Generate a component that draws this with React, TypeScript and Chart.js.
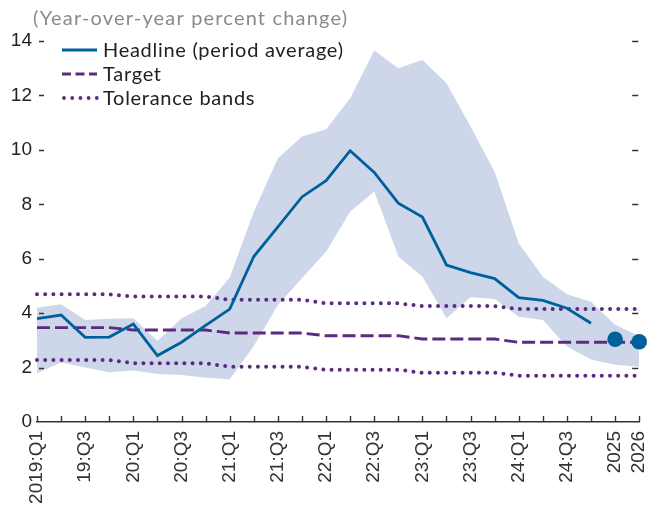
import React, { useEffect, useRef } from "react";
import { Chart, registerables } from "chart.js";

Chart.register(...registerables);

const categories = [
  "2019:Q1", "19:Q2", "19:Q3", "19:Q4",
  "20:Q1", "20:Q2", "20:Q3", "20:Q4",
  "21:Q1", "21:Q2", "21:Q3", "21:Q4",
  "22:Q1", "22:Q2", "22:Q3", "22:Q4",
  "23:Q1", "23:Q2", "23:Q3", "23:Q4",
  "24:Q1", "24:Q2", "24:Q3", "24:Q4",
  "2025", "2026",
];

const headline = [
  3.8, 3.93, 3.11, 3.12, 3.6, 2.44, 2.93, 3.55, 4.15, 6.08, 7.17, 8.27,
  8.87, 9.97, 9.17, 8.04, 7.53, 5.77, 5.49, 5.27, 4.57, 4.47, 4.18, 3.63,
  null, null,
];

const projection = [
  null, null, null, null, null, null, null, null, null, null, null, null,
  null, null, null, null, null, null, null, null, null, null, null, null,
  3.04, 2.95,
];

const target = [
  3.47, 3.47, 3.47, 3.47, 3.38, 3.38, 3.38, 3.38, 3.27, 3.27, 3.27, 3.27,
  3.17, 3.17, 3.17, 3.17, 3.05, 3.05, 3.05, 3.05, 2.93, 2.93, 2.93, 2.93,
  2.93, 2.93,
];

const toleranceUpper = [
  4.69, 4.69, 4.69, 4.69, 4.61, 4.61, 4.61, 4.61, 4.49, 4.49, 4.49, 4.49,
  4.36, 4.36, 4.36, 4.36, 4.26, 4.26, 4.26, 4.26, 4.15, 4.15, 4.15, 4.15,
  4.15, 4.15,
];

const toleranceLower = [
  2.28, 2.28, 2.28, 2.28, 2.16, 2.16, 2.16, 2.16, 2.03, 2.03, 2.03, 2.03,
  1.92, 1.92, 1.92, 1.92, 1.81, 1.81, 1.81, 1.81, 1.7, 1.7, 1.7, 1.7,
  1.7, 1.7,
];

const fanUpper = [
  4.2, 4.33, 3.75, 3.79, 3.81, 2.98, 3.81, 4.26, 5.31, 7.73, 9.69, 10.49,
  10.76, 11.9, 13.65, 13.0, 13.31, 12.45, 10.86, 9.2, 6.57, 5.34, 4.69, 4.42,
  3.57, 3.16,
];

const fanLower = [
  1.79, 2.19, 2.0, 1.83, 1.89, 1.76, 1.73, 1.63, 1.57, 2.79, 4.3, 5.28,
  6.26, 7.73, 8.47, 6.08, 5.34, 3.81, 4.58, 4.52, 3.87, 3.75, 2.77, 2.3,
  2.1, 2.03,
];

const yTickValues = [0, 2, 4, 6, 8, 10, 12, 14];

const subtitle = "(Year-over-year percent change)";
const legendLabels = ["Headline (period average)", "Target", "Tolerance bands"];

const BLUE = "#00609b";
const PURPLE = "#5c2a82";
const FAN = "#ced7ea";
const AXIS = "#333333";
const TEXT_FONT = "Lato";

function spacingToFit(ctx: CanvasRenderingContext2D, text: string, width: number) {
  (ctx as any).letterSpacing = "0px";
  const w = ctx.measureText(text).width;
  return Math.max(0, (width - w) / Math.max(1, text.length - 1));
}

const decorPlugin = {
  id: "decor",
  afterDraw(chart: any) {
    const { ctx, chartArea, scales } = chart;
    const { left, right, bottom } = chartArea;
    const x = scales.x;
    const y = scales.y;
    ctx.save();
    ctx.strokeStyle = AXIS;
    ctx.lineWidth = 1.4;
    categories.forEach((_, i) => {
      const px = Math.round(x.getPixelForValue(i)) + 0.5;
      ctx.beginPath();
      ctx.moveTo(px, bottom);
      ctx.lineTo(px, bottom - 6);
      ctx.stroke();
    });
    yTickValues.forEach((v) => {
      if (v === 0) return;
      const py = Math.round(y.getPixelForValue(v)) + 0.5;
      ctx.beginPath();
      ctx.moveTo(left + 2, py);
      ctx.lineTo(left + 7, py);
      ctx.moveTo(right - 7, py);
      ctx.lineTo(right - 1, py);
      ctx.stroke();
    });

    // subtitle
    ctx.fillStyle = "#8a8a8a";
    ctx.font = `20px ${TEXT_FONT}`;
    ctx.textAlign = "left";
    ctx.textBaseline = "alphabetic";
    const sSub = spacingToFit(ctx, subtitle, 314);
    (ctx as any).letterSpacing = `${sSub}px`;
    ctx.fillText(subtitle, 33, 25);

    // legend
    (ctx as any).letterSpacing = "0px";
    const lx0 = 62;
    const lx1 = 97;
    const ys = [50, 74, 98];
    ctx.lineCap = "butt";
    ctx.strokeStyle = BLUE;
    ctx.lineWidth = 2.8;
    ctx.setLineDash([]);
    ctx.beginPath();
    ctx.moveTo(lx0, ys[0]);
    ctx.lineTo(lx1, ys[0]);
    ctx.stroke();
    ctx.strokeStyle = PURPLE;
    ctx.lineWidth = 2.8;
    ctx.setLineDash([9, 4.5]);
    ctx.beginPath();
    ctx.moveTo(lx0, ys[1]);
    ctx.lineTo(lx1, ys[1]);
    ctx.stroke();
    ctx.setLineDash([]);
    ctx.fillStyle = PURPLE;
    for (let k = 0; k < 5; k++) {
      ctx.beginPath();
      ctx.arc(lx0 + 2 + k * 8.2, ys[2], 1.9, 0, Math.PI * 2);
      ctx.fill();
    }
    ctx.fillStyle = "#222222";
    ctx.font = `20px ${TEXT_FONT}`;
    const sLeg = spacingToFit(ctx, legendLabels[0], 240);
    (ctx as any).letterSpacing = `${sLeg}px`;
    ctx.textBaseline = "middle";
    legendLabels.forEach((t, i) => {
      ctx.fillText(t, 103, ys[i] + 1);
    });
    ctx.restore();
  },
};

export default function App() {
  const canvasRef = useRef<HTMLCanvasElement | null>(null);

  useEffect(() => {
    const canvas = canvasRef.current;
    if (!canvas) return;
    Chart.defaults.font.family = "'Liberation Sans', Arial, sans-serif";
    const chart = new Chart(canvas, {
      type: "line",
      data: {
        labels: categories,
        datasets: [
          {
            label: "Projection",
            data: projection,
            showLine: false,
            pointRadius: 7.8,
            pointBackgroundColor: BLUE,
            pointBorderColor: BLUE,
            pointBorderWidth: 0,
            clip: false as any,
            order: 0,
          },
          {
            label: "Headline (period average)",
            data: headline,
            borderColor: BLUE,
            borderWidth: 2.8,
            pointRadius: 0,
            tension: 0,
            spanGaps: false,
            order: 1,
          },
          {
            label: "Target",
            data: target,
            borderColor: PURPLE,
            borderWidth: 2.8,
            borderDash: [13, 5],
            pointRadius: 0,
            tension: 0,
            order: 2,
          },
          {
            label: "Tolerance upper",
            data: toleranceUpper,
            borderColor: PURPLE,
            borderWidth: 4,
            borderDash: [0, 8.2],
            borderCapStyle: "round",
            pointRadius: 0,
            tension: 0,
            order: 3,
          },
          {
            label: "Tolerance lower",
            data: toleranceLower,
            borderColor: PURPLE,
            borderWidth: 4,
            borderDash: [0, 8.2],
            borderCapStyle: "round",
            pointRadius: 0,
            tension: 0,
            order: 4,
          },
          {
            label: "Fan lower",
            data: fanLower,
            borderWidth: 0,
            borderColor: "rgba(0,0,0,0)",
            pointRadius: 0,
            tension: 0,
            fill: false,
            order: 5,
          },
          {
            label: "Fan upper",
            data: fanUpper,
            borderWidth: 0,
            borderColor: "rgba(0,0,0,0)",
            backgroundColor: FAN,
            pointRadius: 0,
            tension: 0,
            fill: "-1",
            order: 6,
          },
        ],
      },
      options: {
        animation: false,
        responsive: false,
        events: [],
        layout: { padding: { top: 41, right: 5, left: 0, bottom: 0 } },
        plugins: {
          legend: { display: false },
          tooltip: { enabled: false },
          title: { display: false },
        },
        scales: {
          x: {
            type: "category",
            offset: false,
            grid: { display: false, drawTicks: false },
            border: { display: true, color: AXIS, width: 1.5 },
            ticks: {
              autoSkip: false,
              minRotation: 90,
              maxRotation: 90,
              padding: 9,
              color: "#333333",
              font: { size: 19 },
              callback: (_v: any, i: number) => {
                if (i === categories.length - 1) return [categories[i], ""];
                return i % 2 === 0 ? categories[i] : "";
              },
            },
            afterFit: (scale: any) => {
              scale.height = 90;
              scale.paddingRight = 0;
              scale.paddingLeft = 0;
            },
          },
          y: {
            min: 0,
            max: 14,
            grid: { display: false, drawTicks: false },
            border: { display: false },
            afterBuildTicks: (scale: any) => {
              scale.ticks = yTickValues.map((v) => ({ value: v }));
            },
            ticks: {
              padding: 5,
              color: "#222222",
              font: { size: 19 },
            },
            afterFit: (scale: any) => {
              scale.width = 37;
            },
          },
        },
      },
      plugins: [decorPlugin],
    });
    return () => chart.destroy();
  }, []);

  return (
    <div style={{ position: "fixed", left: 0, top: 0, width: 647, height: 512 }}>
      <canvas ref={canvasRef} width={647} height={512} style={{ display: "block" }} />
    </div>
  );
}
